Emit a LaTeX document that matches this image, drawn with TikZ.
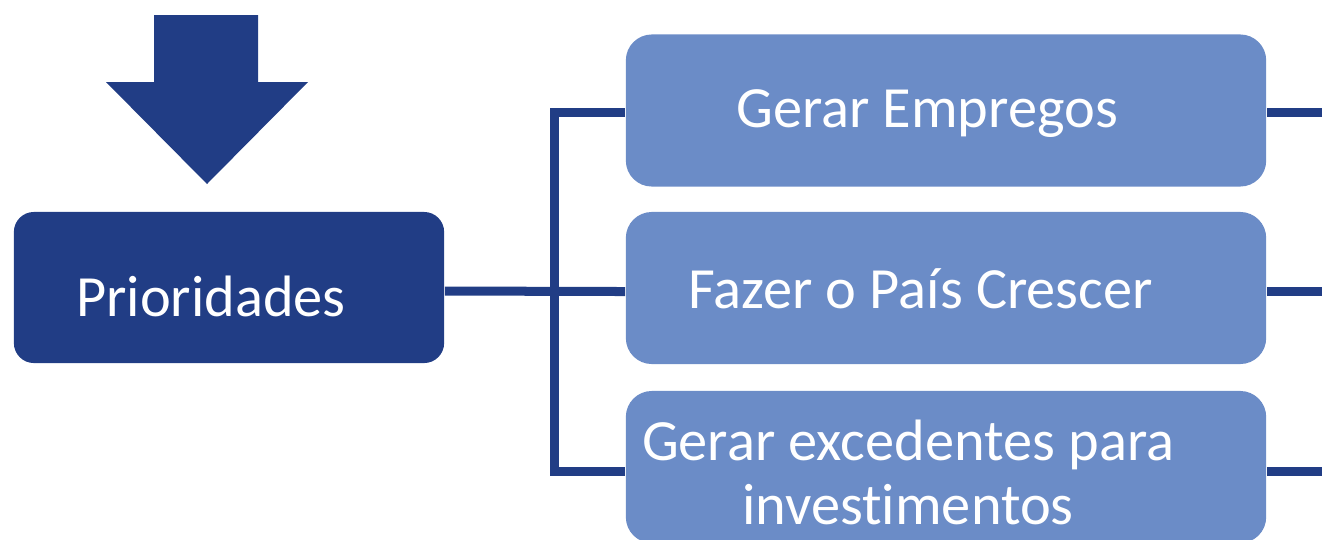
\documentclass[tikz,border=0pt]{standalone}
\usepackage{fontspec}
\setmainfont{Carlito}[Ligatures=NoCommon]
\usetikzlibrary{calc}
\definecolor{escuro}{RGB}{33,61,133}
\definecolor{claro}{RGB}{107,140,199}

\begin{document}
\begin{tikzpicture}[x=0.01cm, y=-0.01cm, every node/.style={font=\fontsize{16.6}{18.2}\selectfont, text=white}]
	\tikzset{
		caixa/.style={rounded corners=0.2cm, inner sep=0pt, minimum width=4.3cm, minimum height=1.51cm, fill=escuro},
		ramo/.style={caixa, rounded corners=0.26cm, minimum width=6.4cm, minimum height=1.52cm, fill=claro},
		linha/.style={draw=escuro, line width=0.09cm}
	}
		\useasboundingbox (0,0) rectangle (1322,539);
		\clip (0,0) rectangle (1322,539);
		\path
		(229,287.5) node[caixa] (prio) {}
		(946,110.5) node[ramo] (gen) {}
		(946,288) node[ramo] (cresc) {}
		(946,467) node[ramo] (exced) {}
		(554.5,0) coordinate (garfo)
		(1340,0) coordinate (borda)
		;
		\fill[escuro] (154,15) -- (258,15) -- (258,82) -- (308,82) -- (207,184) -- (106,82) -- (154,82) -- cycle;
		
		\draw[linha] ([yshift=-1pt]prio.east) -- ([yshift=-1pt]cresc.west);
		\draw[linha] ([yshift=-0.6pt]gen.west) -- ([yshift=-0.6pt]gen.west -| garfo) -- ([yshift=-1.3pt]exced.west -| garfo) -- ([yshift=-1.3pt]exced.west);
		
		\draw[linha] ([yshift=-0.6pt]gen.east) -- ([yshift=-0.6pt]gen.east -| borda);
		\draw[linha] ([yshift=-1pt]cresc.east) -- ([yshift=-1pt]cresc.east -| borda);
		\draw[linha] ([yshift=-1.3pt]exced.east) -- ([yshift=-1.3pt]exced.east -| borda);
		
		\path
		(211,316) node[anchor=base] (prio-txt) {Prioridades}
		(927,127) node[anchor=base] (gen-txt) {Gerar Empregos}
		(920.5,308) node[anchor=base] (cresc-txt) {Fazer o País Crescer}
		(908,524) node[anchor=base, align=center] (exced-txt) {Gerar excedentes para\\investimentos}
		;
	\end{tikzpicture}
\end{document}
